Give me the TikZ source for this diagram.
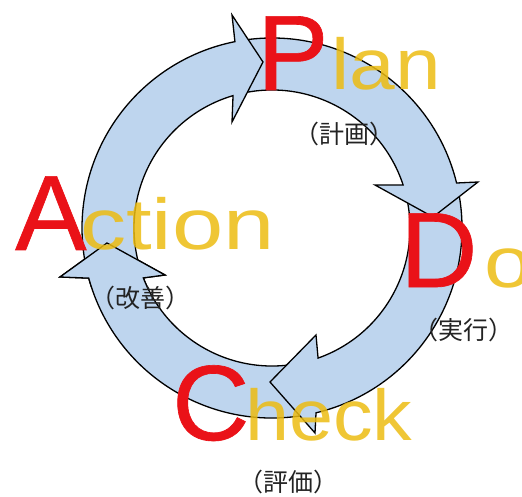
\documentclass[tikz,border=0pt]{standalone}
\usepackage{fontspec}
\setmainfont{Liberation Sans}
\newfontfamily\capfont{Liberation Sans}[FakeBold=0.6]
\newfontfamily\jpfont{Noto Sans CJK JP}
\usetikzlibrary{calc}

\definecolor{ringblue}{RGB}{190,213,238}
\definecolor{capred}{RGB}{234,18,24}
\definecolor{lowgold}{RGB}{236,188,18}
\definecolor{labelgray}{RGB}{35,35,35}

% Outlines of the four curved arrows (centre O, outer radius 190, inner radius 138)
\def\ringAP{($(O)+(193.4:190pt)$) arc[start angle=193.4, end angle=101.25, radius=190pt]
  -- (232,-15) -- (263,-62) -- (232,-122) -- ($(O)+(106.4:138pt)$)
  arc[start angle=106.4, end angle=198.6, radius=138pt] -- cycle}
\def\ringPD{($(O)+(99.4:190pt)$) arc[start angle=99.4, end angle=13.7, radius=190pt]
  -- (478,-182) -- (433,-217) -- (375,-185) -- ($(O)+(18.2:138pt)$)
  arc[start angle=18.2, end angle=103, radius=138pt] -- cycle}
\def\ringDC{($(O)+(10.9:190pt)$) arc[start angle=10.9, end angle=-76.6, radius=190pt]
  -- (315,-433) -- (270,-382) -- (316,-335) -- ($(O)+(-70.5:138pt)$)
  arc[start angle=-70.5, end angle=15.1, radius=138pt] -- cycle}
\def\ringCA{($(O)+(280:190pt)$) arc[start angle=280, end angle=195.3, radius=190pt]
  -- (60,-277) -- (107,-243) -- (165,-275) -- ($(O)+(201.2:138pt)$)
  arc[start angle=201.2, end angle=283.8, radius=138pt] -- cycle}

\tikzset{
  ringarrow/.style={fill=ringblue, draw=black, line width=1.3pt, line join=miter},
  bigcap/.style={inner sep=0pt, anchor=base west, text=capred,
    font=\capfont\fontsize{107}{107}\selectfont},
  smallword/.style={inner sep=0pt, anchor=base west, text=lowgold, text opacity=0.85,
    font=\fontsize{72}{72}\selectfont},
  jplabel/.style={inner sep=0pt, text=labelgray, font=\jpfont\fontsize{25}{25}\selectfont}
}

\begin{document}
\begin{tikzpicture}[x=1pt,y=1pt]
\useasboundingbox (0,0) rectangle (522,-497);
\coordinate (O) at (272,-228);

% arrows, each head lying over the start of the next one
\path[ringarrow] \ringCA;
\path[ringarrow] \ringDC;
\path[ringarrow] \ringPD;
\path[ringarrow] \ringAP;
\begin{scope}
  \clip (50,-232) rectangle (178,-286);
  \path[ringarrow] \ringCA;
\end{scope}

% stage words
\node[bigcap] (P) at (257,-90) {P};
\node[smallword, xscale=1.14] (lan) at (331,-90) {lan};
\node[bigcap] (A) at (15,-250) {A};
\node[smallword, xscale=1.28] (ction) at (80,-250) {ction};
\node[bigcap] (D) at (400,-287) {D};
\node[smallword, xscale=1.2] (o) at (484,-287) {o};
\node[bigcap] (C) at (172,-440) {C};
\node[smallword, xscale=1.1] (heck) at (245,-440) {heck};

% Japanese captions
\node[jplabel] (planjp) at (344,-134) {（計画）};
\node[jplabel] (dojp) at (463,-330) {（実行）};
\node[jplabel] (actjp) at (140,-298) {（改善）};
\node[jplabel] (chkjp) at (288,-482) {（評価）};
\end{tikzpicture}
\end{document}
